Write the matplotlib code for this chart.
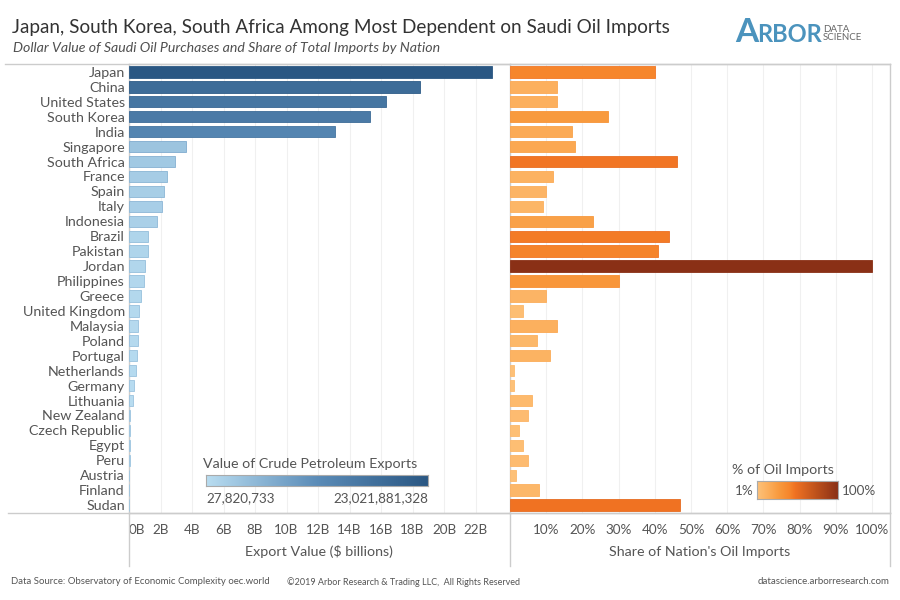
"""Saudi oil exports by nation: dollar value and share of imports, two bar panels."""
import numpy as np
import matplotlib
matplotlib.use("Agg")
import matplotlib.pyplot as plt
from matplotlib.colors import LinearSegmentedColormap

plt.rcParams["font.family"] = ["Lato", "DejaVu Sans"]

countries = ["Japan", "China", "United States", "South Korea", "India", "Singapore",
             "South Africa", "France", "Spain", "Italy", "Indonesia", "Brazil", "Pakistan",
             "Jordan", "Philippines", "Greece", "United Kingdom", "Malaysia", "Poland",
             "Portugal", "Netherlands", "Germany", "Lithuania", "New Zealand",
             "Czech Republic", "Egypt", "Peru", "Austria", "Finland", "Sudan"]
export_b = [23.02, 18.5, 16.3, 15.3, 13.1, 3.6, 2.95, 2.4, 2.2, 2.1, 1.8, 1.2, 1.2, 1.0, 0.95,
            0.75, 0.65, 0.6, 0.6, 0.5, 0.45, 0.3, 0.25, 0.08, 0.04, 0.04, 0.04, 0.03, 0.03, 0.03]
share_pct = [40, 13, 13, 27, 17, 18, 46, 12, 10, 9, 23, 44, 41, 100, 30, 10, 3.5, 13, 7.5, 11,
             1.2, 1, 6, 5, 2.5, 3.5, 5, 1.6, 8, 47]
export_ticks = [0, 2, 4, 6, 8, 10, 12, 14, 16, 18, 20, 22]
share_ticks = [10, 20, 30, 40, 50, 60, 70, 80, 90, 100]

blues = LinearSegmentedColormap.from_list("blues", ["#b9ddf1", "#5b8cb8", "#2a5783"])
oranges = LinearSegmentedColormap.from_list("oranges", [
    (0, "#fdc27a"), (0.13, "#fcb05e"), (0.27, "#f89a3e"), (0.4, "#f6862c"), (0.47, "#f07222"),
    (1, "#8a3016")])
W, H = 900, 600
GRID = "#f0f0f0"
LINE = "#cccccc"
TXT = "#555555"
FS = 10.3
NUM = 9.7


def px_axes(x0, y0, x1, y1):
    # axes from pixel box, y counted from the top like the reference
    return fig.add_axes([x0 / W, 1 - y1 / H, (x1 - x0) / W, (y1 - y0) / H])


def fig_text(x, y, s, **kw):
    return fig.text(x / W, 1 - y / H, s, **kw)


fig = plt.figure(figsize=(9, 6), dpi=100, facecolor="white")
ax1 = px_axes(129, 64, 510, 513)
ax2 = px_axes(510, 64, 890, 513)
y = np.arange(len(countries))

ev = np.array(export_b) / max(export_b)
sv = np.array(share_pct) / 100
ax1.barh(y, export_b, height=0.76, color=blues(ev), edgecolor=blues(np.minimum(ev + 0.15, 1)),
         lw=0.6, zorder=3)
ax2.barh(y, share_pct, height=0.76, color=oranges(sv), edgecolor=oranges(np.minimum(sv + 0.05, 1)),
         lw=0.6, zorder=3)

ax1.set_xlim(0, 381 / 15.75)
ax2.set_xlim(0, 380 / 3.62)
for ax in (ax1, ax2):
    ax.set_ylim(len(countries) - 0.5 + 0.03, -0.5 - 0.03)
    ax.grid(axis="x", color=GRID, lw=0.8, zorder=0)
    ax.set_axisbelow(True)
    for s in ax.spines.values():
        s.set_color(LINE)
        s.set_linewidth(1)
    ax.spines["right"].set_visible(False)
    ax.tick_params(length=0, colors=TXT, labelsize=NUM)

ax2.spines["right"].set_visible(True)
ax1.set_yticks(y, countries, fontsize=FS, color=TXT)
ax2.set_yticks([])
ax1.set_xticks(export_ticks, [f"{t}B" for t in export_ticks])
ax2.set_xticks(share_ticks, [f"{t}%" for t in share_ticks])
ax1.get_xticklabels()[0].set_ha("left")
ax1.tick_params(axis="x", pad=8)
ax2.tick_params(axis="x", pad=8)
ax1.tick_params(axis="y", pad=3)

# rules reaching past the panels
fig.add_artist(plt.Line2D([8 / W, 890 / W], [1 - 513 / H] * 2, color=LINE, lw=1))
fig.add_artist(plt.Line2D([5 / W, 890 / W], [1 - 64 / H] * 2, color=LINE, lw=1))
for xp in (129, 510, 890):
    fig.add_artist(plt.Line2D([xp / W] * 2, [1 - 566 / H, 1 - 513 / H], color=LINE, lw=1))

fig_text(319, 552, "Export Value ($ billions)", ha="center", va="center", fontsize=FS, color=TXT)
fig_text(700, 552, "Share of Nation's Oil Imports", ha="center", va="center", fontsize=FS, color=TXT)

# title block
fig_text(12, 28, "Japan, South Korea, South Africa Among Most Dependent on Saudi Oil Imports",
         ha="left", va="center", fontsize=13.55, color="#333333")
fig_text(13, 48, "Dollar Value of Saudi Oil Purchases and Share of Total Imports by Nation",
         ha="left", va="center", fontsize=10.2, style="italic", color="#505050")

# logo
LOGO = "#4b93bd"
fig_text(735, 42, "A", ha="left", va="baseline", fontsize=24, fontweight="bold", color=LOGO)
fig_text(757, 42, "RBOR", ha="left", va="baseline", fontsize=17, fontweight="bold", color=LOGO)
fig_text(823, 29, "DATA", ha="left", va="center", fontsize=7, color="#666666")
fig_text(823, 38, "SCIENCE", ha="left", va="center", fontsize=7, color="#666666")

# colour legends
ramp = np.linspace(0, 1, 256).reshape(1, -1)
lg1 = px_axes(206, 475, 428, 486)
lg1.imshow(ramp, cmap=blues, aspect="auto")
lg2 = px_axes(757, 481, 838, 499)
lg2.imshow(ramp, cmap=oranges, aspect="auto")
for lg in (lg1, lg2):
    lg.set_xticks([])
    lg.set_yticks([])
    for s in lg.spines.values():
        s.set_color("#aaaaaa")

fig_text(203, 464, "Value of Crude Petroleum Exports", ha="left", va="center", fontsize=FS, color=TXT)
fig_text(206, 498, "27,820,733", ha="left", va="center", fontsize=NUM, color=TXT)
fig_text(428, 498, "23,021,881,328", ha="right", va="center", fontsize=NUM, color=TXT)
fig_text(732, 470, "% of Oil Imports", ha="left", va="center", fontsize=FS, color=TXT)
fig_text(754, 491, "1%", ha="right", va="center", fontsize=NUM, color=TXT)
fig_text(842, 491, "100%", ha="left", va="center", fontsize=NUM, color=TXT)

# footer
fig_text(11, 582, "Data Source: Observatory of Economic Complexity oec.world", ha="left", va="center",
         fontsize=6.9, color=TXT)
fig_text(287, 582, "©2019 Arbor Research & Trading LLC,  All Rights Reserved", ha="left", va="center",
         fontsize=6.5, color=TXT)
fig_text(889, 582, "datascience.arborresearch.com", ha="right", va="center", fontsize=7, color=TXT)

fig.savefig("out.png", dpi=100, facecolor="white")
